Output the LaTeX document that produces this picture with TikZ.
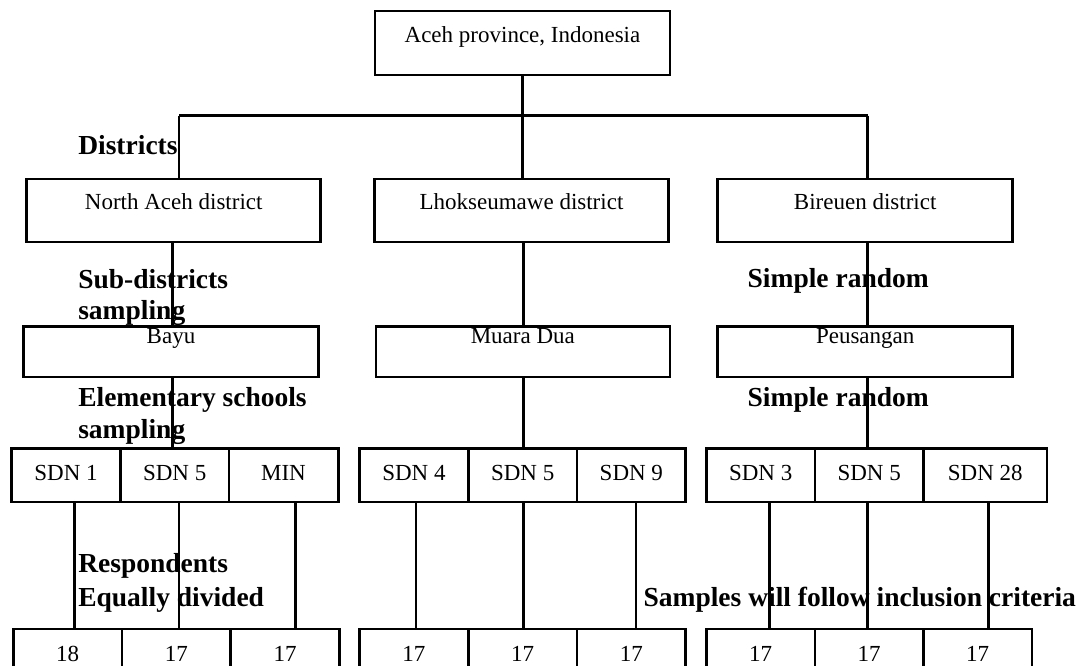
\documentclass[tikz,border=0pt]{standalone}
\usepackage{fontspec}
\setmainfont{Liberation Serif}
\begin{document}
\begin{tikzpicture}[x=1pt,y=-1pt,
  every path/.style={line width=2.6pt},
  box/.style={draw, line width=2.6pt, inner sep=0pt, font=\fontsize{23}{27}\selectfont},
  bigbox/.style={box, minimum width=295pt, minimum height=#1},
  cell/.style={box, minimum height=53.4pt, text height=16pt, text depth=5.4pt},
  ncell/.style={box, minimum height=50pt, text height=18pt, text depth=4pt},
  lab/.style={anchor=base west, inner sep=0pt, font=\fontsize{27.5}{32}\selectfont\bfseries},
  conn/.style={line width=2.6pt}]
\useasboundingbox (0,0) rectangle (1088,666);
% top level
\node[bigbox=64pt, text height=16pt, text depth=16pt] (top) at (522.5,43) {Aceh province, Indonesia};
% districts
\node[bigbox=63pt, minimum width=294pt, text height=16pt, text depth=17pt] (na) at (173.7,210.5) {North Aceh district};
\node[bigbox=63pt, minimum width=294pt, text height=16pt, text depth=17pt] (lh) at (521.5,210.5) {Lhokseumawe district};
\node[bigbox=63pt, text height=16pt, text depth=17pt] (bi) at (865.2,210.5) {Bireuen district};
% sub-districts
\node[bigbox=50.6pt, text height=16pt, text depth=33.4pt] (sub1) at (171,351.7) {Bayu};
\node[bigbox=50.6pt, minimum width=294pt, text height=16pt, text depth=33.4pt] (sub2) at (522.8,351.7) {Muara Dua};
\node[bigbox=50.6pt, text height=16pt, text depth=33.4pt] (sub3) at (865.2,351.7) {Peusangan};
% schools
\node[cell, minimum width=109pt]   (s11) at (66,475.3)     {SDN 1};
\node[cell, minimum width=108.3pt] (s12) at (174.65,475.3) {SDN 5};
\node[cell, minimum width=109.4pt] (s13) at (283.5,475.3)  {MIN};
\node[cell, minimum width=109pt]   (s21) at (413.9,475.3)  {SDN 4};
\node[cell, minimum width=108.6pt] (s22) at (522.7,475.3)  {SDN 5};
\node[cell, minimum width=108.7pt] (s23) at (631.35,475.3) {SDN 9};
\node[cell, minimum width=108.3pt] (s31) at (760.65,475.3) {SDN 3};
\node[cell, minimum width=108.7pt] (s32) at (869.15,475.3) {SDN 5};
\node[cell, minimum width=123.6pt] (s33) at (985.3,475.3)  {SDN 28};
% respondents
\node[ncell, minimum width=108.7pt] (b11) at (67.55,654)  {18};
\node[ncell, minimum width=108.7pt] (b12) at (176.25,654) {17};
\node[ncell, minimum width=109pt]   (b13) at (285.1,654)  {17};
\node[ncell, minimum width=109pt]   (b21) at (413.9,654)  {17};
\node[ncell, minimum width=108.6pt] (b22) at (522.7,654)  {17};
\node[ncell, minimum width=108.7pt] (b23) at (631.35,654) {17};
\node[ncell, minimum width=108.3pt] (b31) at (760.65,654) {17};
\node[ncell, minimum width=108.7pt] (b32) at (869.15,654) {17};
\node[ncell, minimum width=108.3pt] (b33) at (977.65,654) {17};
% labels
\node[lab] (l1) at (77,154.5) {Districts};
\node[lab] (l2) at (77,288.2) {Sub-districts};
\node[lab] (l2b) at (77,319.6) {sampling};
\node[lab] (l3) at (746.4,287.5) {Simple random};
\node[lab] (l4) at (77,406.6) {Elementary schools};
\node[lab] (l4b) at (77,438.6) {sampling};
\node[lab] (l5) at (746.4,406.6) {Simple random};
\node[lab] (l6) at (77,572.6) {Respondents};
\node[lab] (l6b) at (77,606.3) {Equally divided};
\node[lab] (l7) at (642.3,606.3) {Samples will follow inclusion criteria};
% connectors
\coordinate (barM) at (top.south |- 0,115.6);
\coordinate (barL) at (179,115.6);
\coordinate (barR) at (867.6,115.6);
\draw[conn] (top.south) -- (barM);
\draw[conn] (barL) -- (barR);
\draw[conn] (barL) -- (barL |- na.north);
\draw[conn] (barM) -- (barM |- lh.north);
\draw[conn] (barR) -- (barR |- bi.north);
\draw[conn] ([xshift=-1pt]na.south) -- ([xshift=-1pt]na.south |- sub1.north);
\draw[conn] ([xshift=2pt]lh.south) -- ([xshift=2pt]lh.south |- sub2.north);
\draw[conn] ([xshift=2.4pt]bi.south) -- ([xshift=2.4pt]bi.south |- sub3.north);
\draw[conn] ([xshift=1.6pt]sub1.south) -- ([xshift=1.6pt]sub1.south |- s12.north);
\draw[conn] ([xshift=0.8pt]sub2.south) -- ([xshift=0.8pt]sub2.south |- s22.north);
\draw[conn] ([xshift=2.4pt]sub3.south) -- ([xshift=2.4pt]sub3.south |- s32.north);
\draw[conn] ([xshift=8.7pt]s11.south) -- ([xshift=8.7pt]s11.south |- b11.north);
\draw[conn] ([xshift=4.15pt]s12.south) -- ([xshift=4.15pt]s12.south |- b12.north);
\draw[conn] ([xshift=12pt]s13.south) -- ([xshift=12pt]s13.south |- b13.north);
\draw[conn] ([xshift=2.1pt]s21.south) -- ([xshift=2.1pt]s21.south |- b21.north);
\draw[conn] ([xshift=0.6pt]s22.south) -- ([xshift=0.6pt]s22.south |- b22.north);
\draw[conn] ([xshift=4.65pt]s23.south) -- ([xshift=4.65pt]s23.south |- b23.north);
\draw[conn] ([xshift=9.05pt]s31.south) -- ([xshift=9.05pt]s31.south |- b31.north);
\draw[conn] ([xshift=-1.55pt]s32.south) -- ([xshift=-1.55pt]s32.south |- b32.north);
\draw[conn] ([xshift=3.1pt]s33.south) -- ([xshift=3.1pt]s33.south |- b33.north);
\end{tikzpicture}
\end{document}
